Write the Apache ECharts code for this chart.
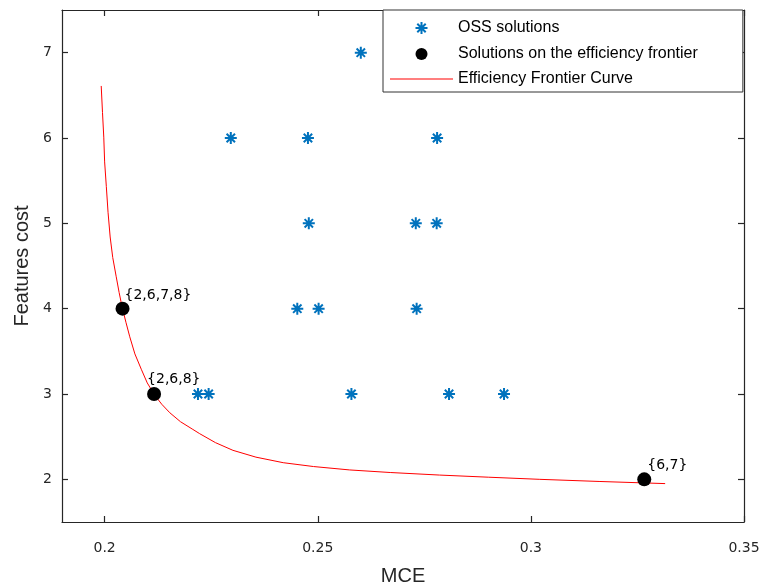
<!DOCTYPE html>
<html>
<head>
<meta charset="utf-8">
<script src="https://cdn.jsdelivr.net/npm/echarts@6/dist/echarts.min.js"></script>
<style>
  html, body { margin: 0; padding: 0; background: #fff; }
  #chart { width: 761px; height: 584px; }
</style>
</head>
<body>
<div id="chart"></div>
<script>
// OSS solutions (blue asterisks)
var ossMCE  = [0.2601, 0.2296, 0.2477, 0.2780, 0.2479, 0.2730, 0.2779, 0.2452, 0.2502, 0.2732, 0.2219, 0.2244, 0.2579, 0.2808, 0.2937];
var ossCost = [7, 6, 6, 6, 5, 5, 5, 4, 4, 4, 3, 3, 3, 3, 3];

// solutions on the efficiency frontier (black dots)
var frontMCE    = [0.2042, 0.2116, 0.3266];
var frontCost   = [4, 3, 2];
var frontLabels = ['{2,6,7,8}', '{2,6,8}', '{6,7}'];

// efficiency frontier curve
var curveMCE  = [0.1992, 0.1995, 0.1998, 0.2000, 0.2004, 0.2008, 0.2013, 0.2019, 0.2027, 0.2034, 0.2041, 0.2050, 0.2059, 0.2071, 0.2086, 0.2100, 0.2117, 0.2134, 0.2153, 0.2178, 0.2207, 0.2223, 0.2260, 0.2301, 0.2355, 0.2419, 0.2490, 0.2575, 0.2670, 0.2786, 0.2900, 0.3021, 0.3160, 0.3315];
var curveCost = [6.61, 6.30, 6.01, 5.72, 5.43, 5.13, 4.84, 4.60, 4.38, 4.19, 4.02, 3.84, 3.67, 3.47, 3.29, 3.13, 2.99, 2.88, 2.78, 2.675, 2.585, 2.535, 2.43, 2.34, 2.26, 2.195, 2.15, 2.11, 2.08, 2.05, 2.025, 2.00, 1.975, 1.95];

var xTicks = [0.2, 0.25, 0.3, 0.35];
var yTicks = [2, 3, 4, 5, 6, 7];

var names = ['OSS solutions', 'Solutions on the efficiency frontier', 'Efficiency Frontier Curve'];

function pairs(xs, ys) {
  return xs.map(function (x, i) { return [x, ys[i]]; });
}

// label placement next to the dots (relative to symbol box)
var labelPos = [[9, -6], [0, -8], [10, -7]];

var axisColor = '#262626';
var star = 'path://M5,0L5,10M0,5L10,5M1.5,1.5L8.5,8.5M8.5,1.5L1.5,8.5';

var chart = echarts.init(document.getElementById('chart'));

function xAxisCfg(pos, showLabel) {
  return {
    type: 'value', position: pos, min: 0.19, max: 0.35,
    name: showLabel ? 'MCE' : '', nameLocation: 'middle', nameGap: 44,
    nameTextStyle: { fontFamily: 'Liberation Sans', fontSize: 20, color: axisColor },
    axisLine: { onZero: false, lineStyle: { color: axisColor, width: 1.2 } },
    axisTick: { show: true, inside: true, length: 6, customValues: xTicks, lineStyle: { color: axisColor, width: 1.2 } },
    axisLabel: { show: showLabel, customValues: xTicks, margin: 19, fontFamily: 'DejaVu Sans', fontSize: 14, color: axisColor },
    splitLine: { show: false }
  };
}
function yAxisCfg(pos, showLabel) {
  return {
    type: 'value', position: pos, min: 1.5, max: 7.5,
    name: showLabel ? 'Features cost' : '', nameLocation: 'middle', nameGap: 28,
    nameTextStyle: { fontFamily: 'Liberation Sans', fontSize: 20, color: axisColor },
    axisLine: { onZero: false, lineStyle: { color: axisColor, width: 1.2 } },
    axisTick: { show: true, inside: true, length: 6, customValues: yTicks, lineStyle: { color: axisColor, width: 1.2 } },
    axisLabel: { show: showLabel, customValues: yTicks, margin: 10, fontFamily: 'DejaVu Sans', fontSize: 14, color: axisColor },
    splitLine: { show: false }
  };
}

chart.setOption({
  backgroundColor: '#fff',
  animation: false,
  grid: { left: 62, right: 17, top: 10, bottom: 62, containLabel: false, outerBoundsMode: 'none' },
  legend: {
    orient: 'vertical',
    left: 383, top: 10,
    padding: [9, 45, 5, 6],
    itemWidth: 63, itemHeight: 16, itemGap: 9,
    backgroundColor: '#fff',
    borderColor: '#333', borderWidth: 1,
    textStyle: { fontFamily: 'Liberation Sans', fontSize: 16, color: '#000' },
    data: [
      { name: names[0], icon: 'path://M0,0M63,16M31.5,2L31.5,14M25.5,8L37.5,8M27.3,3.8L35.7,12.2M35.7,3.8L27.3,12.2',
        itemStyle: { color: '#0072BD', borderColor: '#0072BD', borderWidth: 2, opacity: 1 } },
      { name: names[1], icon: 'path://M0,0M63,16M37.5,8A6,6,0,1,1,25.5,8A6,6,0,1,1,37.5,8Z',
        itemStyle: { color: '#000', borderWidth: 0, opacity: 1 } },
      { name: names[2], icon: 'path://M0,0M63,16M0,7.5L63,7.5L63,8.5L0,8.5Z',
        itemStyle: { color: '#FF0000', borderWidth: 0, opacity: 1 },
        lineStyle: { color: '#FF0000', width: 1 } }
    ]
  },
  xAxis: [xAxisCfg('bottom', true), xAxisCfg('top', false)],
  yAxis: [yAxisCfg('left', true), yAxisCfg('right', false)],
  series: [
    {
      name: names[0], type: 'scatter',
      data: pairs(ossMCE, ossCost),
      symbol: star, symbolSize: 12,
      itemStyle: { color: '#0072BD', borderColor: '#0072BD', borderWidth: 2, opacity: 1 },
      z: 3
    },
    {
      name: names[2], type: 'line',
      color: '#FF0000',
      data: pairs(curveMCE, curveCost),
      symbol: 'none', smooth: false,
      lineStyle: { color: '#FF0000', width: 1 },
      itemStyle: { color: '#FF0000' },
      z: 2
    },
    {
      name: names[1], type: 'scatter',
      data: frontMCE.map(function (x, i) {
        return {
          value: [x, frontCost[i]],
          label: { show: true, position: labelPos[i], formatter: frontLabels[i] }
        };
      }),
      symbol: 'circle', symbolSize: 14,
      itemStyle: { color: '#000', opacity: 1 },
      label: { align: 'left', verticalAlign: 'middle', fontFamily: 'DejaVu Sans', fontSize: 14, color: '#000' },
      z: 4
    }
  ]
});
</script>
</body>
</html>
